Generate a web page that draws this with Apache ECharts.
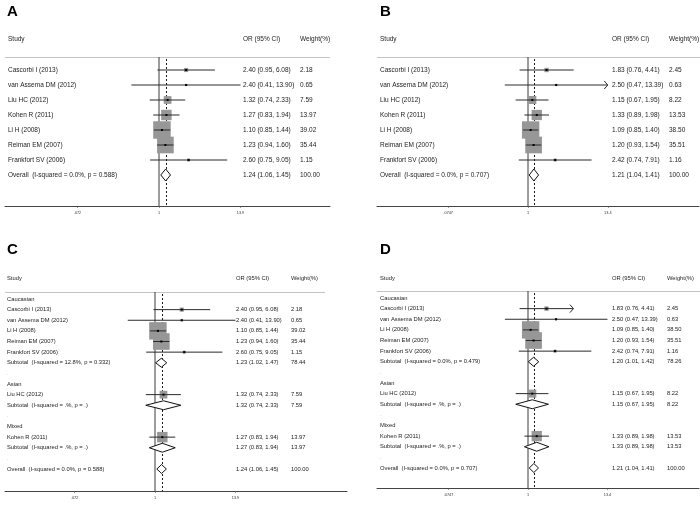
<!DOCTYPE html>
<html><head><meta charset="utf-8">
<script src="https://cdn.jsdelivr.net/npm/echarts@6/dist/echarts.min.js"></script>
<style>html,body{margin:0;padding:0;background:#fff}#c{width:700px;height:507px}</style>
</head><body><div id="c"></div>
<script>
// ---------- Panel A ----------
const namesA = ["Cascorbi I (2013)","van Assema DM (2012)","Liu HC (2012)","Kohen R (2011)","Li H (2008)","Reiman EM (2007)","Frankfort SV (2006)","Overall  (I-squared = 0.0%, p = 0.588)"];
const kindA  = ["s","s","s","s","s","s","s","d"];
const orA    = [2.40,2.40,1.32,1.27,1.10,1.23,2.60,1.24];
const loA    = [0.95,0.41,0.74,0.83,0.85,0.94,0.75,1.06];
const hiA    = [6.08,13.90,2.33,1.94,1.44,1.60,9.05,1.45];
const wA     = [2.18,0.65,7.59,13.97,39.02,35.44,1.15,100.00];
const arrowA = [0,0,0,0,0,0,0,0];
const ticksA = [0.072,1,13.9];
const tickLabelsA = [".072","1","13.9"];

// ---------- Panel B ----------
const namesB = ["Cascorbi I (2013)","van Assema DM (2012)","Liu HC (2012)","Kohen R (2011)","Li H (2008)","Reiman EM (2007)","Frankfort SV (2006)","Overall  (I-squared = 0.0%, p = 0.707)"];
const kindB  = ["s","s","s","s","s","s","s","d"];
const orB    = [1.83,2.50,1.15,1.33,1.09,1.20,2.42,1.21];
const loB    = [0.76,0.47,0.67,0.89,0.85,0.93,0.74,1.04];
const hiB    = [4.41,13.39,1.95,1.98,1.40,1.54,7.91,1.41];
const wB     = [2.45,0.63,8.22,13.53,38.50,35.51,1.16,100.00];
const arrowB = [0,1,0,0,0,0,0,0];
const ticksB = [0.0747,1,13.4];
const tickLabelsB = [".0747","1","13.4"];

// ---------- Panel C ----------
const namesC = ["Caucasian","Cascorbi I (2013)","van Assema DM (2012)","Li H (2008)","Reiman EM (2007)","Frankfort SV (2006)","Subtotal  (I-squared = 12.8%, p = 0.332)",".",
                "Asian","Liu HC (2012)","Subtotal  (I-squared = .%, p = .)",".",
                "Mixed","Kohen R (2011)","Subtotal  (I-squared = .%, p = .)",".",
                "Overall  (I-squared = 0.0%, p = 0.588)"];
const kindC  = ["h","s","s","s","s","s","d","b","h","s","d","b","h","s","d","b","d"];
const orC    = [null,2.40,2.40,1.10,1.23,2.60,1.23,null,null,1.32,1.32,null,null,1.27,1.27,null,1.24];
const loC    = [null,0.95,0.41,0.85,0.94,0.75,1.02,null,null,0.74,0.74,null,null,0.83,0.83,null,1.06];
const hiC    = [null,6.08,13.90,1.44,1.60,9.05,1.47,null,null,2.33,2.33,null,null,1.94,1.94,null,1.45];
const wC     = [null,2.18,0.65,39.02,35.44,1.15,78.44,null,null,7.59,7.59,null,null,13.97,13.97,null,100.00];
const arrowC = [0,0,0,0,0,0,0,0,0,0,0,0,0,0,0,0,0];
const ticksC = [0.072,1,13.9];
const tickLabelsC = [".072","1","13.9"];

// ---------- Panel D ----------
const namesD = ["Caucasian","Cascorbi I (2013)","van Assema DM (2012)","Li H (2008)","Reiman EM (2007)","Frankfort SV (2006)","Subtotal  (I-squared = 0.0%, p = 0.479)",".",
                "Asian","Liu HC (2012)","Subtotal  (I-squared = .%, p = .)",".",
                "Mixed","Kohen R (2011)","Subtotal  (I-squared = .%, p = .)",".",
                "Overall  (I-squared = 0.0%, p = 0.707)"];
const kindD  = ["h","s","s","s","s","s","d","b","h","s","d","b","h","s","d","b","d"];
const orD    = [null,1.83,2.50,1.09,1.20,2.42,1.20,null,null,1.15,1.15,null,null,1.33,1.33,null,1.21];
const loD    = [null,0.76,0.47,0.85,0.93,0.74,1.01,null,null,0.67,0.67,null,null,0.89,0.89,null,1.04];
const hiD    = [null,4.41,13.39,1.40,1.54,7.91,1.42,null,null,1.95,1.95,null,null,1.98,1.98,null,1.41];
const wD     = [null,2.45,0.63,38.50,35.51,1.16,78.26,null,null,8.22,8.22,null,null,13.53,13.53,null,100.00];
const arrowD = [0,1,0,0,0,0,0,0,0,0,0,0,0,0,0,0,0];
const ticksD = [0.0747,1,13.4];
const tickLabelsD = [".0747","1","13.4"];

const headers = ["Study","OR (95% CI)","Weight(%)"];
const letters = ["A","B","C","D"];

// ---------- layout (pixels) ----------
const FONT = "'Liberation Sans', Arial, Helvetica, sans-serif";
const layouts = [
  {left:5,  right:330, top:57,  bottom:206, one:159, ppd:71.3, row0:70,  step:15,     nameX:8,   orX:243, wX:300, headY:39,  letterX:7,   letterY:12,  hline:[5,330],   fs:6.5, dh:0.4},
  {left:377,right:699, top:57,  bottom:206, one:528, ppd:70.8, row0:70,  step:15,     nameX:380, orX:612, wX:669, headY:39,  letterX:380, letterY:12,  hline:[377,700], fs:6.5, dh:0.4},
  {left:5,  right:347, top:292, bottom:491, one:155, ppd:70.4, row0:299, step:10.625, nameX:7,   orX:236, wX:291, headY:278, letterX:7,   letterY:250, hline:[5,325],   fs:5.8, dh:0.42},
  {left:377,right:699, top:291, bottom:488, one:528, ppd:70.5, row0:298, step:10.625, nameX:380, orX:612, wX:667, headY:278, letterX:380, letterY:250, hline:[377,700], fs:5.8, dh:0.42}
];
const panels = [
  {names:namesA,kind:kindA,or:orA,lo:loA,hi:hiA,w:wA,arrow:arrowA,ticks:ticksA,tickLabels:tickLabelsA},
  {names:namesB,kind:kindB,or:orB,lo:loB,hi:hiB,w:wB,arrow:arrowB,ticks:ticksB,tickLabels:tickLabelsB},
  {names:namesC,kind:kindC,or:orC,lo:loC,hi:hiC,w:wC,arrow:arrowC,ticks:ticksC,tickLabels:tickLabelsC},
  {names:namesD,kind:kindD,or:orD,lo:loD,hi:hiD,w:wD,arrow:arrowD,ticks:ticksD,tickLabels:tickLabelsD}
];

const BOXK = 2.8;
const TXT = '#1c1c1c';
const lg = Math.log10;

function txt(x, y, s, fs, color, align) {
  return {type:'text', silent:true, style:{x:x, y:y, text:s, fill:color||TXT, fontSize:fs, fontFamily:FONT,
    align:align||'left', verticalAlign:'middle', textAlign:align||'left', textVerticalAlign:'middle'}};
}

const grid = [], xAxis = [], yAxis = [], series = [], graphic = [];
panels.forEach((p, i) => {
  const L = layouts[i];
  const xmin = -(L.one - L.left) / L.ppd, xmax = (L.right - L.one) / L.ppd;
  const ymin = (L.top - L.row0) / L.step, ymax = (L.bottom - L.row0) / L.step;
  grid.push({left:L.left, top:L.top, width:L.right - L.left, height:L.bottom - L.top});
  const tv = p.ticks.map(lg);
  xAxis.push({gridIndex:i, type:'value', min:xmin, max:xmax, position:'bottom',
    axisLine:{show:true, onZero:false, lineStyle:{color:'#444', width:1}},
    axisTick:{show:true, length:2, customValues:tv, lineStyle:{color:'#555', width:0.6}},
    axisLabel:{show:true, customValues:tv, fontSize:3.8, color:'#333', margin:5, fontFamily:FONT,
      formatter: v => { let k = 0, b = 1e9; tv.forEach((t, j) => { if (Math.abs(t - v) < b) { b = Math.abs(t - v); k = j; } }); return p.tickLabels[k]; }},
    splitLine:{show:false}});
  yAxis.push({gridIndex:i, type:'value', inverse:true, min:ymin, max:ymax, show:false,
    axisLine:{show:false, onZero:false}});

  const overallOR = p.or[p.or.length - 1];
  // reference lines: null effect (1) and pooled estimate
  series.push({type:'custom', xAxisIndex:i, yAxisIndex:i, z:1, silent:true,
    data:[[lg(1), 0], [lg(overallOR), 1]],
    renderItem: (params, api) => {
      const a = api.coord([api.value(0), ymin]), b = api.coord([api.value(0), ymax]);
      const dashed = params.dataIndex === 1;
      const x = dashed ? Math.round(a[0]) + 0.5 : a[0];
      return {type:'line', shape:{x1:x, y1:a[1] + (dashed ? 2 : 0), x2:x, y2:b[1]},
        style:{stroke: dashed ? '#1a1a1a' : '#3a3a3a', lineWidth:1, lineDash: dashed ? [2, 2] : null}};
    }});

  // rows
  series.push({type:'custom', xAxisIndex:i, yAxisIndex:i, z:2, silent:true,
    data: p.names.map((n, j) => [p.or[j] != null ? lg(p.or[j]) : 0, j]),
    renderItem: (params, api) => {
      const j = params.dataIndex;
      const y = api.coord([0, j])[1];
      const k = p.kind[j];
      const kids = [];
      kids.push(txt(L.nameX, y, p.names[j], L.fs, k === 'b' ? '#999' : TXT));
      if (k === 's' || k === 'd') {
        const c = api.coord([lg(p.or[j]), j]);
        const lo = api.coord([lg(p.lo[j]), j]);
        const hi = api.coord([lg(p.hi[j]), j]);
        if (k === 's') {
          const s = BOXK * Math.sqrt(p.w[j]);
          kids.push({type:'rect', shape:{x:c[0] - s / 2, y:y - s / 2, width:s, height:s}, style:{fill:'#979797'}});
          kids.push({type:'line', shape:{x1:lo[0], y1:y, x2:hi[0], y2:y}, style:{stroke:'#2a2a2a', lineWidth:1}});
          kids.push({type:'rect', shape:{x:c[0] - 1, y:y - 1, width:2, height:2}, style:{fill:'#000'}});
          if (p.arrow[j]) {
            kids.push({type:'polyline', shape:{points:[[hi[0] - 3.5, y - 4], [hi[0], y], [hi[0] - 3.5, y + 4]]}, style:{stroke:'#2a2a2a', lineWidth:1, fill:null}});
          }
        } else {
          const h = L.dh * L.step;
          kids.push({type:'polygon', shape:{points:[[lo[0], y], [c[0], y - h], [hi[0], y], [c[0], y + h]]},
            style:{fill:'#fff', stroke:'#111', lineWidth:1}});
        }
        const ci = p.or[j].toFixed(2) + " (" + p.lo[j].toFixed(2) + ", " + p.hi[j].toFixed(2) + ")";
        kids.push(txt(L.orX, y, ci, L.fs));
        kids.push(txt(L.wX, y, p.w[j].toFixed(2), L.fs));
      }
      return {type:'group', children:kids};
    }});

  // headers, header rule, panel letter
  graphic.push({type:'line', silent:true, shape:{x1:L.hline[0], y1:L.top + 0.5, x2:L.hline[1], y2:L.top + 0.5}, style:{stroke:'#c4c4c4', lineWidth:1}});
  graphic.push(txt(L.nameX, L.headY, headers[0], L.fs));
  graphic.push(txt(L.orX, L.headY, headers[1], L.fs));
  graphic.push(txt(L.wX, L.headY, headers[2], L.fs));
  graphic.push({type:'text', silent:true, style:{x:L.letterX, y:L.letterY, text:letters[i], fill:'#000', fontSize:15, fontWeight:'bold', fontFamily:FONT,
    align:'left', verticalAlign:'middle', textAlign:'left', textVerticalAlign:'middle'}});
});

const chart = echarts.init(document.getElementById('c'), null, {renderer:'canvas', width:700, height:507});
chart.setOption({animation:false, backgroundColor:'#fff', grid, xAxis, yAxis, series, graphic});
</script>
</body></html>
